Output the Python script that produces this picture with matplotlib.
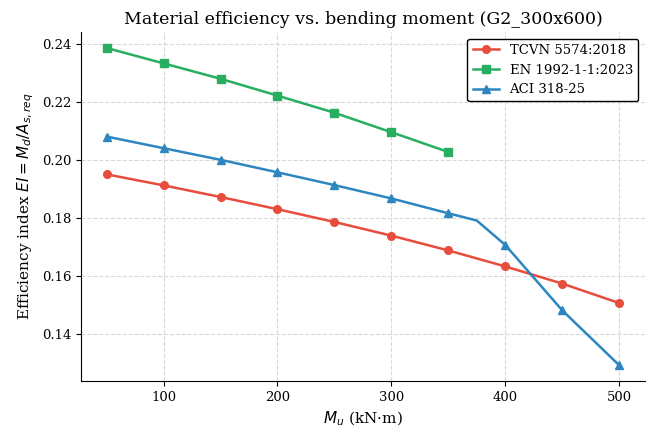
import numpy as np
import matplotlib
matplotlib.use("Agg")
import matplotlib.pyplot as plt

# Data
mu_tcvn = [50, 100, 150, 200, 250, 300, 350, 400, 450, 500]
ei_tcvn = [0.1951, 0.1913, 0.1873, 0.1831, 0.1787, 0.1740, 0.1689, 0.1634, 0.1575, 0.1508]

mu_en = [50, 100, 150, 200, 250, 300, 350]
ei_en = [0.2386, 0.2333, 0.2280, 0.2222, 0.2163, 0.2096, 0.2028]

mu_aci = [50, 100, 150, 200, 250, 300, 350, 375, 400, 450, 500]
ei_aci = [0.2081, 0.2041, 0.2001, 0.1958, 0.1914, 0.1868, 0.1817, 0.1792, 0.1708, 0.1483, 0.1294]
aci_marks = [0, 1, 2, 3, 4, 5, 6, 8, 9, 10]

plt.rcParams['font.family'] = 'DejaVu Serif'
plt.rcParams['mathtext.fontset'] = 'dejavusans'


def main():
    fig, ax = plt.subplots(figsize=(6.48, 4.34), dpi=100)

    ax.plot(mu_tcvn, ei_tcvn, color='#e74c3c', marker='o', ms=5.5, lw=1.8, label='TCVN 5574:2018')
    ax.plot(mu_en, ei_en, color='#27ae60', marker='s', ms=5.5, lw=1.8, label='EN 1992-1-1:2023')
    ax.plot(mu_aci, ei_aci, color='#2e86c1', marker='^', ms=5.5, lw=1.8,
            markevery=aci_marks, label='ACI 318-25')

    ax.set_title('Material efficiency vs. bending moment (G2_300x600)', fontsize=12.5)
    ax.set_xlabel(r'$M_u$ (kN·m)', fontsize=11)
    ax.set_ylabel(r'Efficiency index $EI = M_d / A_{s,req}$', fontsize=11)

    ax.set_xticks([100, 200, 300, 400, 500])
    ax.set_yticks([0.14, 0.16, 0.18, 0.20, 0.22, 0.24])
    ax.tick_params(labelsize=9.5)

    ax.grid(True, linestyle='--', color='#d8d8d8', linewidth=0.8)
    ax.spines['top'].set_visible(False)
    ax.spines['right'].set_visible(False)

    leg = ax.legend(loc='upper right', fontsize=9.5, frameon=True, framealpha=1)
    leg.get_frame().set_edgecolor('black')

    fig.subplots_adjust(left=0.125, right=0.995, top=0.926, bottom=0.122)
    fig.savefig('out.png', dpi=100)


if __name__ == '__main__':
    main()
